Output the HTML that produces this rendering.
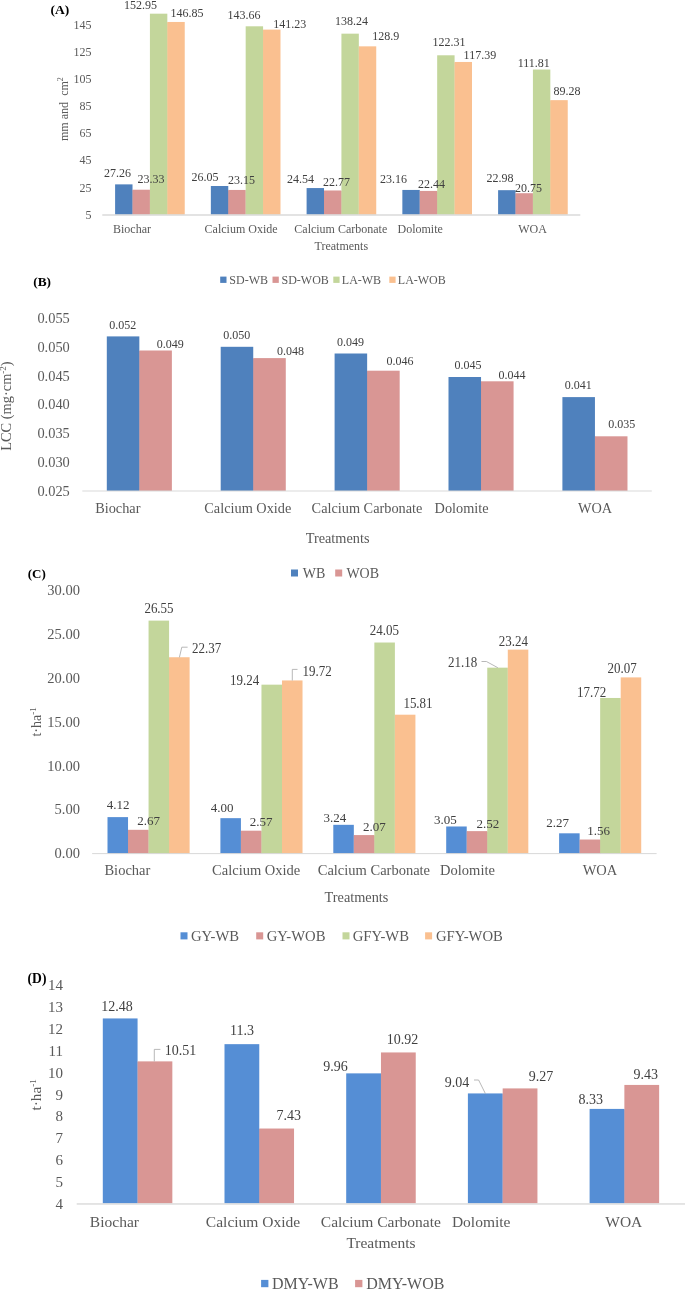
<!DOCTYPE html>
<html><head><meta charset="utf-8"><style>
html,body{margin:0;padding:0;background:#fff;}
body{width:685px;height:1289px;overflow:hidden;}
svg{display:block;filter:blur(0.4px);font-family:"Liberation Serif",serif;}
</style></head><body>
<svg width="685" height="1289" viewBox="0 0 685 1289">
<rect width="685" height="1289" fill="#fff"/>
<rect x="115.10" y="184.37" width="17.41" height="30.73" fill="#4f81bd"/>
<rect x="132.50" y="190.21" width="0.81" height="24.89" fill="#4f81bd"/>
<rect x="132.51" y="189.71" width="17.41" height="25.39" fill="#d99694"/>
<rect x="149.91" y="190.21" width="0.81" height="24.89" fill="#d99694"/>
<rect x="149.92" y="13.68" width="17.41" height="201.42" fill="#c3d69b"/>
<rect x="167.32" y="22.47" width="0.81" height="192.63" fill="#c3d69b"/>
<rect x="167.33" y="21.97" width="17.41" height="193.13" fill="#fac090"/>
<rect x="210.85" y="186.01" width="17.41" height="29.09" fill="#4f81bd"/>
<rect x="228.25" y="190.45" width="0.81" height="24.65" fill="#4f81bd"/>
<rect x="228.26" y="189.95" width="17.41" height="25.15" fill="#d99694"/>
<rect x="245.66" y="190.45" width="0.81" height="24.65" fill="#d99694"/>
<rect x="245.67" y="26.30" width="17.41" height="188.80" fill="#c3d69b"/>
<rect x="263.07" y="30.10" width="0.81" height="185.00" fill="#c3d69b"/>
<rect x="263.08" y="29.60" width="17.41" height="185.50" fill="#fac090"/>
<rect x="306.60" y="188.06" width="17.41" height="27.04" fill="#4f81bd"/>
<rect x="324.00" y="190.97" width="0.81" height="24.13" fill="#4f81bd"/>
<rect x="324.01" y="190.47" width="17.41" height="24.63" fill="#d99694"/>
<rect x="341.41" y="190.97" width="0.81" height="24.13" fill="#d99694"/>
<rect x="341.42" y="33.66" width="17.41" height="181.44" fill="#c3d69b"/>
<rect x="358.82" y="46.84" width="0.81" height="168.26" fill="#c3d69b"/>
<rect x="358.83" y="46.34" width="17.41" height="168.76" fill="#fac090"/>
<rect x="402.35" y="189.94" width="17.41" height="25.16" fill="#4f81bd"/>
<rect x="419.75" y="191.42" width="0.81" height="23.68" fill="#4f81bd"/>
<rect x="419.76" y="190.92" width="17.41" height="24.18" fill="#d99694"/>
<rect x="437.16" y="191.42" width="0.81" height="23.68" fill="#d99694"/>
<rect x="437.17" y="55.29" width="17.41" height="159.81" fill="#c3d69b"/>
<rect x="454.57" y="62.47" width="0.81" height="152.63" fill="#c3d69b"/>
<rect x="454.58" y="61.97" width="17.41" height="153.13" fill="#fac090"/>
<rect x="498.10" y="190.18" width="17.41" height="24.92" fill="#4f81bd"/>
<rect x="515.50" y="193.71" width="0.81" height="21.39" fill="#4f81bd"/>
<rect x="515.51" y="193.21" width="17.41" height="21.89" fill="#d99694"/>
<rect x="532.91" y="193.71" width="0.81" height="21.39" fill="#d99694"/>
<rect x="532.92" y="69.55" width="17.41" height="145.55" fill="#c3d69b"/>
<rect x="550.32" y="100.65" width="0.81" height="114.45" fill="#c3d69b"/>
<rect x="550.33" y="100.15" width="17.41" height="114.95" fill="#fac090"/>
<rect x="102.30" y="214.20" width="478.00" height="1.60" fill="#dcdcdc"/>
<text x="91.50" y="218.80" font-size="12" fill="#595959" text-anchor="end">5</text>
<text x="91.50" y="191.64" font-size="12" fill="#595959" text-anchor="end">25</text>
<text x="91.50" y="164.48" font-size="12" fill="#595959" text-anchor="end">45</text>
<text x="91.50" y="137.32" font-size="12" fill="#595959" text-anchor="end">65</text>
<text x="91.50" y="110.16" font-size="12" fill="#595959" text-anchor="end">85</text>
<text x="91.50" y="83.00" font-size="12" fill="#595959" text-anchor="end">105</text>
<text x="91.50" y="55.84" font-size="12" fill="#595959" text-anchor="end">125</text>
<text x="91.50" y="28.68" font-size="12" fill="#595959" text-anchor="end">145</text>
<text x="117.50" y="176.80" font-size="12" fill="#404040" text-anchor="middle">27.26</text>
<text x="150.90" y="183.40" font-size="12" fill="#404040" text-anchor="middle">23.33</text>
<text x="140.40" y="8.80" font-size="12" fill="#404040" text-anchor="middle">152.95</text>
<text x="186.90" y="16.80" font-size="12" fill="#404040" text-anchor="middle">146.85</text>
<text x="204.90" y="181.00" font-size="12" fill="#404040" text-anchor="middle">26.05</text>
<text x="241.40" y="184.00" font-size="12" fill="#404040" text-anchor="middle">23.15</text>
<text x="244.00" y="18.70" font-size="12" fill="#404040" text-anchor="middle">143.66</text>
<text x="289.80" y="28.00" font-size="12" fill="#404040" text-anchor="middle">141.23</text>
<text x="300.60" y="183.40" font-size="12" fill="#404040" text-anchor="middle">24.54</text>
<text x="336.40" y="185.70" font-size="12" fill="#404040" text-anchor="middle">22.77</text>
<text x="351.40" y="24.80" font-size="12" fill="#404040" text-anchor="middle">138.24</text>
<text x="385.80" y="39.70" font-size="12" fill="#404040" text-anchor="middle">128.9</text>
<text x="393.60" y="183.40" font-size="12" fill="#404040" text-anchor="middle">23.16</text>
<text x="431.40" y="187.70" font-size="12" fill="#404040" text-anchor="middle">22.44</text>
<text x="449.10" y="46.40" font-size="12" fill="#404040" text-anchor="middle">122.31</text>
<text x="479.90" y="59.20" font-size="12" fill="#404040" text-anchor="middle">117.39</text>
<text x="500.00" y="181.90" font-size="12" fill="#404040" text-anchor="middle">22.98</text>
<text x="528.50" y="191.50" font-size="12" fill="#404040" text-anchor="middle">20.75</text>
<text x="533.80" y="66.70" font-size="12" fill="#404040" text-anchor="middle">111.81</text>
<text x="567.00" y="94.50" font-size="12" fill="#404040" text-anchor="middle">89.28</text>
<text x="132.00" y="233.00" font-size="12" fill="#595959" text-anchor="middle">Biochar</text>
<text x="241.10" y="233.00" font-size="12" fill="#595959" text-anchor="middle">Calcium Oxide</text>
<text x="340.80" y="233.00" font-size="12" fill="#595959" text-anchor="middle">Calcium Carbonate</text>
<text x="420.20" y="233.00" font-size="12" fill="#595959" text-anchor="middle">Dolomite</text>
<text x="532.60" y="233.00" font-size="12" fill="#595959" text-anchor="middle">WOA</text>
<text x="341.30" y="250.40" font-size="12" fill="#595959" text-anchor="middle">Treatments</text>
<rect x="220.20" y="276.60" width="6.30" height="6.30" fill="#4f81bd"/>
<text x="229.30" y="283.70" font-size="12" fill="#595959" text-anchor="start">SD-WB</text>
<rect x="272.50" y="276.60" width="6.30" height="6.30" fill="#d99694"/>
<text x="281.50" y="283.70" font-size="12" fill="#595959" text-anchor="start">SD-WOB</text>
<rect x="333.30" y="276.60" width="6.30" height="6.30" fill="#c3d69b"/>
<text x="341.80" y="283.70" font-size="12" fill="#595959" text-anchor="start">LA-WB</text>
<rect x="389.30" y="276.60" width="6.30" height="6.30" fill="#fac090"/>
<text x="397.80" y="283.70" font-size="12" fill="#595959" text-anchor="start">LA-WOB</text>
<text x="50.50" y="14.20" font-size="13.5" fill="#000" text-anchor="start" font-weight="bold">(A)</text>
<text transform="translate(67.8,141) rotate(-90)" font-size="12" fill="#595959">mm and <tspan dx="3.2">cm</tspan><tspan font-size="8" dy="-5">2</tspan></text>
<rect x="106.80" y="336.40" width="32.54" height="154.60" fill="#4f81bd"/>
<rect x="139.33" y="351.00" width="0.81" height="140.00" fill="#4f81bd"/>
<rect x="139.34" y="350.50" width="32.54" height="140.50" fill="#d99694"/>
<rect x="220.70" y="346.80" width="32.54" height="144.20" fill="#4f81bd"/>
<rect x="253.23" y="358.60" width="0.81" height="132.40" fill="#4f81bd"/>
<rect x="253.24" y="358.10" width="32.54" height="132.90" fill="#d99694"/>
<rect x="334.60" y="353.50" width="32.54" height="137.50" fill="#4f81bd"/>
<rect x="367.13" y="371.20" width="0.81" height="119.80" fill="#4f81bd"/>
<rect x="367.14" y="370.70" width="32.54" height="120.30" fill="#d99694"/>
<rect x="448.50" y="377.00" width="32.54" height="114.00" fill="#4f81bd"/>
<rect x="481.03" y="381.80" width="0.81" height="109.20" fill="#4f81bd"/>
<rect x="481.04" y="381.30" width="32.54" height="109.70" fill="#d99694"/>
<rect x="562.40" y="397.10" width="32.54" height="93.90" fill="#4f81bd"/>
<rect x="594.93" y="436.80" width="0.81" height="54.20" fill="#4f81bd"/>
<rect x="594.94" y="436.30" width="32.54" height="54.70" fill="#d99694"/>
<rect x="82.30" y="490.50" width="569.50" height="1.00" fill="#d9d9d9"/>
<text x="69.80" y="322.70" font-size="14.4" fill="#595959" text-anchor="end">0.055</text>
<text x="69.80" y="351.60" font-size="14.4" fill="#595959" text-anchor="end">0.050</text>
<text x="69.80" y="380.50" font-size="14.4" fill="#595959" text-anchor="end">0.045</text>
<text x="69.80" y="409.40" font-size="14.4" fill="#595959" text-anchor="end">0.040</text>
<text x="69.80" y="438.30" font-size="14.4" fill="#595959" text-anchor="end">0.035</text>
<text x="69.80" y="467.20" font-size="14.4" fill="#595959" text-anchor="end">0.030</text>
<text x="69.80" y="496.10" font-size="14.4" fill="#595959" text-anchor="end">0.025</text>
<text x="122.80" y="329.00" font-size="12" fill="#404040" text-anchor="middle">0.052</text>
<text x="170.30" y="348.00" font-size="12" fill="#404040" text-anchor="middle">0.049</text>
<text x="236.70" y="339.10" font-size="12" fill="#404040" text-anchor="middle">0.050</text>
<text x="290.50" y="354.50" font-size="12" fill="#404040" text-anchor="middle">0.048</text>
<text x="350.60" y="345.90" font-size="12" fill="#404040" text-anchor="middle">0.049</text>
<text x="399.90" y="365.20" font-size="12" fill="#404040" text-anchor="middle">0.046</text>
<text x="468.10" y="369.00" font-size="12" fill="#404040" text-anchor="middle">0.045</text>
<text x="512.00" y="378.50" font-size="12" fill="#404040" text-anchor="middle">0.044</text>
<text x="578.30" y="389.30" font-size="12" fill="#404040" text-anchor="middle">0.041</text>
<text x="621.80" y="428.20" font-size="12" fill="#404040" text-anchor="middle">0.035</text>
<text x="117.80" y="513.20" font-size="14.3" fill="#595959" text-anchor="middle">Biochar</text>
<text x="247.80" y="513.20" font-size="14.3" fill="#595959" text-anchor="middle">Calcium Oxide</text>
<text x="367.00" y="513.20" font-size="14.3" fill="#595959" text-anchor="middle">Calcium Carbonate</text>
<text x="461.60" y="513.20" font-size="14.3" fill="#595959" text-anchor="middle">Dolomite</text>
<text x="595.10" y="513.20" font-size="14.3" fill="#595959" text-anchor="middle">WOA</text>
<text x="337.60" y="543.20" font-size="14.3" fill="#595959" text-anchor="middle">Treatments</text>
<rect x="291.00" y="569.50" width="7.00" height="7.00" fill="#4f81bd"/>
<text x="302.70" y="577.70" font-size="14" fill="#595959" text-anchor="start">WB</text>
<rect x="335.20" y="569.50" width="7.00" height="7.00" fill="#d99694"/>
<text x="346.40" y="577.70" font-size="14" fill="#595959" text-anchor="start">WOB</text>
<text x="33.30" y="285.70" font-size="13.3" fill="#000" text-anchor="start" font-weight="bold">(B)</text>
<text transform="translate(11.2,450.8) rotate(-90)" font-size="14.4" fill="#595959">LCC (mg·cm<tspan font-size="9" dy="-5">-2</tspan><tspan dy="5">)</tspan></text>
<rect x="107.50" y="817.11" width="20.53" height="36.49" fill="#558ed5"/>
<rect x="128.02" y="830.31" width="0.81" height="23.29" fill="#558ed5"/>
<rect x="128.03" y="829.81" width="20.53" height="23.79" fill="#d99694"/>
<rect x="148.55" y="830.31" width="0.81" height="23.29" fill="#d99694"/>
<rect x="148.56" y="620.62" width="20.53" height="232.98" fill="#c3d69b"/>
<rect x="169.08" y="657.74" width="0.81" height="195.86" fill="#c3d69b"/>
<rect x="169.09" y="657.24" width="20.53" height="196.36" fill="#fac090"/>
<rect x="220.40" y="818.16" width="20.53" height="35.44" fill="#558ed5"/>
<rect x="240.92" y="831.19" width="0.81" height="22.41" fill="#558ed5"/>
<rect x="240.93" y="830.69" width="20.53" height="22.91" fill="#d99694"/>
<rect x="261.45" y="831.19" width="0.81" height="22.41" fill="#d99694"/>
<rect x="261.46" y="684.66" width="20.53" height="168.94" fill="#c3d69b"/>
<rect x="281.98" y="685.16" width="0.81" height="168.44" fill="#c3d69b"/>
<rect x="281.99" y="680.45" width="20.53" height="173.15" fill="#fac090"/>
<rect x="333.30" y="824.82" width="20.53" height="28.78" fill="#558ed5"/>
<rect x="353.82" y="835.57" width="0.81" height="18.03" fill="#558ed5"/>
<rect x="353.83" y="835.07" width="20.53" height="18.53" fill="#d99694"/>
<rect x="374.35" y="835.57" width="0.81" height="18.03" fill="#d99694"/>
<rect x="374.36" y="642.52" width="20.53" height="211.08" fill="#c3d69b"/>
<rect x="394.88" y="715.20" width="0.81" height="138.40" fill="#c3d69b"/>
<rect x="394.89" y="714.70" width="20.53" height="138.90" fill="#fac090"/>
<rect x="446.20" y="826.48" width="20.53" height="27.12" fill="#558ed5"/>
<rect x="466.72" y="831.62" width="0.81" height="21.98" fill="#558ed5"/>
<rect x="466.73" y="831.12" width="20.53" height="22.48" fill="#d99694"/>
<rect x="487.25" y="831.62" width="0.81" height="21.98" fill="#d99694"/>
<rect x="487.26" y="667.66" width="20.53" height="185.94" fill="#c3d69b"/>
<rect x="507.78" y="668.16" width="0.81" height="185.44" fill="#c3d69b"/>
<rect x="507.79" y="649.62" width="20.53" height="203.98" fill="#fac090"/>
<rect x="559.10" y="833.31" width="20.53" height="20.29" fill="#558ed5"/>
<rect x="579.62" y="840.03" width="0.81" height="13.57" fill="#558ed5"/>
<rect x="579.63" y="839.53" width="20.53" height="14.07" fill="#d99694"/>
<rect x="600.15" y="840.03" width="0.81" height="13.57" fill="#d99694"/>
<rect x="600.16" y="697.97" width="20.53" height="155.63" fill="#c3d69b"/>
<rect x="620.68" y="698.47" width="0.81" height="155.13" fill="#c3d69b"/>
<rect x="620.69" y="677.39" width="20.53" height="176.21" fill="#fac090"/>
<rect x="92.10" y="853.10" width="564.50" height="1.00" fill="#d9d9d9"/>
<text x="79.90" y="595.30" font-size="14.5" fill="#595959" text-anchor="end">30.00</text>
<text x="79.90" y="639.10" font-size="14.5" fill="#595959" text-anchor="end">25.00</text>
<text x="79.90" y="682.90" font-size="14.5" fill="#595959" text-anchor="end">20.00</text>
<text x="79.90" y="726.70" font-size="14.5" fill="#595959" text-anchor="end">15.00</text>
<text x="79.90" y="770.50" font-size="14.5" fill="#595959" text-anchor="end">10.00</text>
<text x="79.90" y="814.30" font-size="14.5" fill="#595959" text-anchor="end">5.00</text>
<text x="79.90" y="858.10" font-size="14.5" fill="#595959" text-anchor="end">0.00</text>
<path d="M179.40,657.40 L181.80,647.20 L187.60,647.20" stroke="#a6a6a6" stroke-width="0.8" fill="none"/>
<path d="M292.30,680.50 L292.30,669.40 L297.50,669.40" stroke="#a6a6a6" stroke-width="0.8" fill="none"/>
<path d="M481.50,661.50 L486.40,661.50 L497.80,667.70" stroke="#a6a6a6" stroke-width="0.8" fill="none"/>
<text x="118.00" y="809.10" font-size="13" fill="#404040" text-anchor="middle">4.12</text>
<text x="148.70" y="824.80" font-size="13" fill="#404040" text-anchor="middle">2.67</text>
<text transform="translate(159.00,613.20) scale(1,1.13)" font-size="13" fill="#404040" text-anchor="middle">26.55</text>
<text transform="translate(206.60,652.60) scale(1,1.13)" font-size="13" fill="#404040" text-anchor="middle">22.37</text>
<text x="222.20" y="811.70" font-size="13" fill="#404040" text-anchor="middle">4.00</text>
<text x="261.20" y="825.80" font-size="13" fill="#404040" text-anchor="middle">2.57</text>
<text transform="translate(244.60,685.00) scale(1,1.13)" font-size="13" fill="#404040" text-anchor="middle">19.24</text>
<text transform="translate(317.10,675.80) scale(1,1.13)" font-size="13" fill="#404040" text-anchor="middle">19.72</text>
<text x="334.90" y="822.10" font-size="13" fill="#404040" text-anchor="middle">3.24</text>
<text x="374.30" y="830.50" font-size="13" fill="#404040" text-anchor="middle">2.07</text>
<text transform="translate(384.40,634.90) scale(1,1.13)" font-size="13" fill="#404040" text-anchor="middle">24.05</text>
<text transform="translate(418.00,707.90) scale(1,1.13)" font-size="13" fill="#404040" text-anchor="middle">15.81</text>
<text x="445.30" y="823.80" font-size="13" fill="#404040" text-anchor="middle">3.05</text>
<text x="487.90" y="828.00" font-size="13" fill="#404040" text-anchor="middle">2.52</text>
<text transform="translate(462.60,666.90) scale(1,1.13)" font-size="13" fill="#404040" text-anchor="middle">21.18</text>
<text transform="translate(513.40,646.40) scale(1,1.13)" font-size="13" fill="#404040" text-anchor="middle">23.24</text>
<text x="557.60" y="826.80" font-size="13" fill="#404040" text-anchor="middle">2.27</text>
<text x="598.50" y="834.50" font-size="13" fill="#404040" text-anchor="middle">1.56</text>
<text transform="translate(591.70,697.40) scale(1,1.13)" font-size="13" fill="#404040" text-anchor="middle">17.72</text>
<text transform="translate(622.20,673.20) scale(1,1.13)" font-size="13" fill="#404040" text-anchor="middle">20.07</text>
<text x="127.40" y="875.00" font-size="14.5" fill="#595959" text-anchor="middle">Biochar</text>
<text x="256.20" y="875.00" font-size="14.5" fill="#595959" text-anchor="middle">Calcium Oxide</text>
<text x="373.90" y="875.00" font-size="14.5" fill="#595959" text-anchor="middle">Calcium Carbonate</text>
<text x="467.50" y="875.00" font-size="14.5" fill="#595959" text-anchor="middle">Dolomite</text>
<text x="600.00" y="875.00" font-size="14.5" fill="#595959" text-anchor="middle">WOA</text>
<text x="356.50" y="901.80" font-size="14.3" fill="#595959" text-anchor="middle">Treatments</text>
<rect x="180.50" y="932.30" width="7.00" height="7.10" fill="#558ed5"/>
<text x="191.00" y="941.00" font-size="14.7" fill="#595959" text-anchor="start">GY-WB</text>
<rect x="256.20" y="932.30" width="7.00" height="7.10" fill="#d99694"/>
<text x="266.70" y="941.00" font-size="14.7" fill="#595959" text-anchor="start">GY-WOB</text>
<rect x="342.50" y="932.30" width="7.00" height="7.10" fill="#c3d69b"/>
<text x="352.70" y="941.00" font-size="14.7" fill="#595959" text-anchor="start">GFY-WB</text>
<rect x="425.10" y="932.30" width="7.00" height="7.10" fill="#fac090"/>
<text x="435.90" y="941.00" font-size="14.7" fill="#595959" text-anchor="start">GFY-WOB</text>
<text x="27.70" y="577.50" font-size="13" fill="#000" text-anchor="start" font-weight="bold">(C)</text>
<text transform="translate(40.9,736.6) rotate(-90)" font-size="14" fill="#595959">t·ha<tspan font-size="9" dy="-5">-1</tspan></text>
<rect x="102.80" y="1018.44" width="34.77" height="185.46" fill="#558ed5"/>
<rect x="137.56" y="1061.88" width="0.81" height="142.02" fill="#558ed5"/>
<rect x="137.57" y="1061.38" width="34.77" height="142.52" fill="#d99694"/>
<rect x="224.50" y="1044.16" width="34.77" height="159.74" fill="#558ed5"/>
<rect x="259.26" y="1129.03" width="0.81" height="74.87" fill="#558ed5"/>
<rect x="259.27" y="1128.53" width="34.77" height="75.37" fill="#d99694"/>
<rect x="346.20" y="1073.37" width="34.77" height="130.53" fill="#558ed5"/>
<rect x="380.96" y="1073.87" width="0.81" height="130.03" fill="#558ed5"/>
<rect x="380.97" y="1052.44" width="34.77" height="151.46" fill="#d99694"/>
<rect x="467.90" y="1093.43" width="34.77" height="110.47" fill="#558ed5"/>
<rect x="502.66" y="1093.93" width="0.81" height="109.97" fill="#558ed5"/>
<rect x="502.67" y="1088.41" width="34.77" height="115.49" fill="#d99694"/>
<rect x="589.60" y="1108.91" width="34.77" height="94.99" fill="#558ed5"/>
<rect x="624.36" y="1109.41" width="0.81" height="94.49" fill="#558ed5"/>
<rect x="624.37" y="1084.93" width="34.77" height="118.97" fill="#d99694"/>
<rect x="76.70" y="1203.10" width="608.30" height="1.70" fill="#e0e0e0"/>
<text x="63.00" y="990.10" font-size="15" fill="#595959" text-anchor="end">14</text>
<text x="63.00" y="1011.99" font-size="15" fill="#595959" text-anchor="end">13</text>
<text x="63.00" y="1033.88" font-size="15" fill="#595959" text-anchor="end">12</text>
<text x="63.00" y="1055.77" font-size="15" fill="#595959" text-anchor="end">11</text>
<text x="63.00" y="1077.66" font-size="15" fill="#595959" text-anchor="end">10</text>
<text x="63.00" y="1099.55" font-size="15" fill="#595959" text-anchor="end">9</text>
<text x="63.00" y="1121.44" font-size="15" fill="#595959" text-anchor="end">8</text>
<text x="63.00" y="1143.33" font-size="15" fill="#595959" text-anchor="end">7</text>
<text x="63.00" y="1165.22" font-size="15" fill="#595959" text-anchor="end">6</text>
<text x="63.00" y="1187.11" font-size="15" fill="#595959" text-anchor="end">5</text>
<text x="63.00" y="1209.00" font-size="15" fill="#595959" text-anchor="end">4</text>
<path d="M154.30,1061.40 L154.30,1049.40 L160.40,1049.40" stroke="#a6a6a6" stroke-width="0.8" fill="none"/>
<path d="M474.00,1080.00 L478.60,1080.00 L485.40,1093.60" stroke="#a6a6a6" stroke-width="0.8" fill="none"/>
<text x="116.90" y="1010.90" font-size="14" fill="#404040" text-anchor="middle">12.48</text>
<text x="180.60" y="1055.10" font-size="14" fill="#404040" text-anchor="middle">10.51</text>
<text x="241.90" y="1035.20" font-size="14" fill="#404040" text-anchor="middle">11.3</text>
<text x="288.70" y="1120.30" font-size="14" fill="#404040" text-anchor="middle">7.43</text>
<text x="335.40" y="1070.70" font-size="14" fill="#404040" text-anchor="middle">9.96</text>
<text x="402.60" y="1043.80" font-size="14" fill="#404040" text-anchor="middle">10.92</text>
<text x="457.00" y="1086.50" font-size="14" fill="#404040" text-anchor="middle">9.04</text>
<text x="540.90" y="1081.10" font-size="14" fill="#404040" text-anchor="middle">9.27</text>
<text x="590.80" y="1104.40" font-size="14" fill="#404040" text-anchor="middle">8.33</text>
<text x="645.70" y="1079.30" font-size="14" fill="#404040" text-anchor="middle">9.43</text>
<text x="114.40" y="1226.60" font-size="15.5" fill="#595959" text-anchor="middle">Biochar</text>
<text x="253.00" y="1226.60" font-size="15.5" fill="#595959" text-anchor="middle">Calcium Oxide</text>
<text x="380.90" y="1226.60" font-size="15.5" fill="#595959" text-anchor="middle">Calcium Carbonate</text>
<text x="481.20" y="1226.60" font-size="15.5" fill="#595959" text-anchor="middle">Dolomite</text>
<text x="623.80" y="1226.60" font-size="15.5" fill="#595959" text-anchor="middle">WOA</text>
<text x="381.00" y="1248.40" font-size="15.5" fill="#595959" text-anchor="middle">Treatments</text>
<rect x="261.10" y="1279.90" width="7.30" height="7.30" fill="#558ed5"/>
<text x="271.90" y="1288.60" font-size="16" fill="#595959" text-anchor="start">DMY-WB</text>
<rect x="355.10" y="1279.90" width="7.30" height="7.30" fill="#d99694"/>
<text x="366.20" y="1288.60" font-size="16" fill="#595959" text-anchor="start">DMY-WOB</text>
<text x="27.60" y="983.30" font-size="13.6" fill="#000" text-anchor="start" font-weight="bold">(D)</text>
<text transform="translate(40.9,1110.6) rotate(-90)" font-size="15.3" fill="#595959">t·ha<tspan font-size="9" dy="-5">-1</tspan></text>
</svg>
</body></html>
